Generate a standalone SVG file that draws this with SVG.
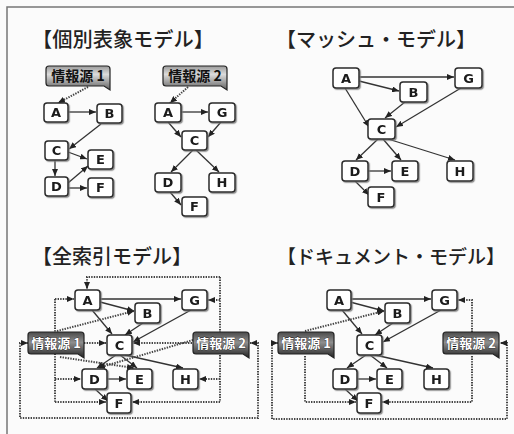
<svg xmlns="http://www.w3.org/2000/svg" width="514" height="434" viewBox="0 0 514 434">
<defs>
<style>
.title{font-family:"Noto Sans CJK JP","Noto Sans",sans-serif;font-size:20px;font-weight:500;fill:#222}
.t4{font-size:19px}
.nd rect{fill:#fff;stroke:#2a2a2a;stroke-width:1.5}
.nd text{font-family:"DejaVu Sans","Liberation Sans",sans-serif;font-weight:bold;font-size:13px;fill:#1a1a1a;text-anchor:middle}
.src path{stroke:#222;stroke-width:1.2}
.srcL path{fill:url(#gl)}
.srcD path{fill:url(#gd)}
.src text{font-family:"Noto Sans CJK JP","Noto Sans",sans-serif;font-weight:bold;text-anchor:middle}
.srcL text{font-size:14px;fill:#111}
.srcD text{font-size:13px;fill:#fff;stroke:#111;stroke-width:0.6;paint-order:stroke}
.e{fill:none;stroke:#333;stroke-width:1.3;marker-end:url(#ah)}
.d{fill:none;stroke:#444;stroke-width:2;stroke-dasharray:1.4 1.2;marker-end:url(#ah)}
.d2{fill:none;stroke:#444;stroke-width:2;stroke-dasharray:1.4 1.2;marker-start:url(#ah);marker-end:url(#ah)}
.dn{fill:none;stroke:#444;stroke-width:2;stroke-dasharray:1.4 1.2}
</style>
<linearGradient id="gl" x1="0" y1="0" x2="0" y2="1">
<stop offset="0" stop-color="#9a9a9a"/><stop offset="0.35" stop-color="#dcdcdc"/><stop offset="1" stop-color="#606060"/>
</linearGradient>
<linearGradient id="gd" x1="0" y1="0" x2="0" y2="1">
<stop offset="0" stop-color="#4a4a4a"/><stop offset="0.4" stop-color="#8e8e8e"/><stop offset="1" stop-color="#222"/>
</linearGradient>
<filter id="sh" x="-20%" y="-20%" width="150%" height="150%">
<feDropShadow dx="1.2" dy="1.2" stdDeviation="0.6" flood-color="#777" flood-opacity="0.8"/>
</filter>
<marker id="ah" markerUnits="userSpaceOnUse" markerWidth="7" markerHeight="6" refX="7" refY="3" orient="auto-start-reverse">
<path d="M0,0 L7,3 L0,6 z" fill="#222"/>
</marker>
</defs>
<rect width="514" height="434" fill="#fbfbfb"/>
<path d="M7,434 V7 H514" fill="none" stroke="#777" stroke-width="1.5"/>

<g id="titles">
<text class="title" x="32" y="47" textLength="182" lengthAdjust="spacingAndGlyphs">【個別表象モデル】</text>
<text class="title" x="276" y="47">【マッシュ・モデル】</text>
<text class="title" x="32" y="264" textLength="160" lengthAdjust="spacingAndGlyphs">【全索引モデル】</text>
<text class="title t4" x="277" y="264">【ドキュメント・モデル】</text>
</g>

<g id="connectors">
<!-- panel 1 -->
<path class="d" d="M88,87 L58,103"/>
<path class="e" d="M68,112 L96,112"/>
<path class="e" d="M101,124 L69,149"/>
<path class="e" d="M68,152 L87,159"/>
<path class="e" d="M55,160 L55,176"/>
<path class="e" d="M68,183 L88,166"/>
<path class="e" d="M68,188 L87,188"/>
<path class="d" d="M188,87 L170,103"/>
<path class="e" d="M181,112 L208,112"/>
<path class="e" d="M168,122 L181,137"/>
<path class="e" d="M221,122 L208,137"/>
<path class="e" d="M193,150 L171,172"/>
<path class="e" d="M196,150 L219,172"/>
<path class="e" d="M170,192 L181,205"/>
<!-- panel 2 -->
<path class="e" d="M359,77 L454,77"/>
<path class="e" d="M359,81 L399,91"/>
<path class="e" d="M345,88 L369,127"/>
<path class="e" d="M405,102 L385,118"/>
<path class="e" d="M461,88 L396,127"/>
<path class="e" d="M378,139 L356,160"/>
<path class="e" d="M383,139 L401,160"/>
<path class="e" d="M388,139 L455,160"/>
<path class="e" d="M368,171 L391,171"/>
<path class="e" d="M355,181 L369,195"/>
<!-- panel 3 solid -->
<path class="e" d="M100,299 L181,299"/>
<path class="e" d="M100,302 L134,311"/>
<path class="e" d="M92,310 L112,334"/>
<path class="e" d="M143,323 L125,335"/>
<path class="e" d="M191,310 L133,342"/>
<path class="e" d="M116,355 L97,368"/>
<path class="e" d="M120,355 L137,368"/>
<path class="e" d="M125,355 L183,368"/>
<path class="e" d="M107,379 L126,379"/>
<path class="e" d="M95,389 L108,401"/>
<!-- panel 3 dotted -->
<path class="dn" d="M55,299 V402"/>
<path class="d" d="M55,299 H74"/>
<path class="d" d="M57,331 L134,311"/>
<path class="d" d="M84,343 H106"/>
<path class="d" d="M60,357 L134,368"/>
<path class="d" d="M55,379 H81"/>
<path class="d" d="M55,402 H106"/>
<path class="dn" d="M220,277 V402"/>
<path class="d" d="M220,277 H87 V289"/>
<path class="d" d="M220,300 H208"/>
<path class="d" d="M192,343 H133"/>
<path class="d" d="M193,340 L98,368"/>
<path class="d" d="M220,379 H199"/>
<path class="d" d="M220,402 H132"/>
<path class="d2" d="M28,343 H20 V418 H258 V343 H250"/>
<!-- panel 4 solid -->
<path class="e" d="M350,299 L431,299"/>
<path class="e" d="M350,302 L384,311"/>
<path class="e" d="M342,310 L362,334"/>
<path class="e" d="M393,323 L375,335"/>
<path class="e" d="M441,310 L383,342"/>
<path class="e" d="M366,355 L347,368"/>
<path class="e" d="M370,355 L387,368"/>
<path class="e" d="M375,355 L433,368"/>
<path class="e" d="M357,379 L376,379"/>
<path class="e" d="M345,389 L358,401"/>
<!-- panel 4 dotted -->
<path class="d" d="M305,331 L384,311"/>
<path class="d" d="M305,356 V402 H356"/>
<path class="d" d="M472,332 V300 H458"/>
<path class="d" d="M472,356 V402 H382"/>
<path class="d2" d="M278,343 H272 V419 H507 V343 H500"/>
</g>

<!-- panel 1 nodes -->
<g id="p1-src1" class="src srcL"><path d="M49,66 H107 Q110,66 110,69 V90 L104,86 H49 Q46,86 46,83 V69 Q46,66 49,66 Z"/><text x="78" y="81">情報源 1</text></g>
<g id="p1-A" class="nd" filter="url(#sh)"><rect x="44" y="103" width="24" height="19" rx="3"/><text x="56" y="117">A</text></g>
<g id="p1-B" class="nd" filter="url(#sh)"><rect x="97" y="104" width="25" height="19" rx="3"/><text x="109.5" y="118">B</text></g>
<g id="p1-C" class="nd" filter="url(#sh)"><rect x="45" y="141" width="23" height="19" rx="3"/><text x="56.5" y="155">C</text></g>
<g id="p1-E" class="nd" filter="url(#sh)"><rect x="88" y="150" width="25" height="19" rx="3"/><text x="100.5" y="164">E</text></g>
<g id="p1-D" class="nd" filter="url(#sh)"><rect x="45" y="177" width="23" height="19" rx="3"/><text x="56.5" y="191">D</text></g>
<g id="p1-F" class="nd" filter="url(#sh)"><rect x="88" y="178" width="25" height="19" rx="3"/><text x="100.5" y="192">F</text></g>
<g id="p1-src2" class="src srcL"><path d="M166,66 H224 Q227,66 227,69 V90 L221,86 H166 Q163,86 163,83 V69 Q163,66 166,66 Z"/><text x="195" y="81">情報源 2</text></g>
<g id="p1-A2" class="nd" filter="url(#sh)"><rect x="155" y="103" width="26" height="19" rx="3"/><text x="168" y="117">A</text></g>
<g id="p1-G" class="nd" filter="url(#sh)"><rect x="209" y="103" width="26" height="19" rx="3"/><text x="222" y="117">G</text></g>
<g id="p1-C2" class="nd" filter="url(#sh)"><rect x="182" y="131" width="25" height="19" rx="3"/><text x="194.5" y="145">C</text></g>
<g id="p1-D2" class="nd" filter="url(#sh)"><rect x="155" y="173" width="26" height="19" rx="3"/><text x="168" y="187">D</text></g>
<g id="p1-H" class="nd" filter="url(#sh)"><rect x="209" y="173" width="26" height="19" rx="3"/><text x="222" y="187">H</text></g>
<g id="p1-F2" class="nd" filter="url(#sh)"><rect x="182" y="197" width="25" height="19" rx="3"/><text x="194.5" y="211">F</text></g>

<!-- panel 2 nodes -->
<g id="p2-A" class="nd" filter="url(#sh)"><rect x="333" y="68" width="26" height="20" rx="3"/><text x="346" y="82.5">A</text></g>
<g id="p2-B" class="nd" filter="url(#sh)"><rect x="400" y="82" width="27" height="20" rx="3"/><text x="413.5" y="96.5">B</text></g>
<g id="p2-G" class="nd" filter="url(#sh)"><rect x="455" y="68" width="27" height="20" rx="3"/><text x="468.5" y="82.5">G</text></g>
<g id="p2-C" class="nd" filter="url(#sh)"><rect x="368" y="119" width="27" height="20" rx="3"/><text x="381.5" y="133.5">C</text></g>
<g id="p2-D" class="nd" filter="url(#sh)"><rect x="342" y="161" width="26" height="20" rx="3"/><text x="355" y="175.5">D</text></g>
<g id="p2-E" class="nd" filter="url(#sh)"><rect x="392" y="161" width="26" height="20" rx="3"/><text x="405" y="175.5">E</text></g>
<g id="p2-H" class="nd" filter="url(#sh)"><rect x="447" y="161" width="26" height="20" rx="3"/><text x="460" y="175.5">H</text></g>
<g id="p2-F" class="nd" filter="url(#sh)"><rect x="368" y="187" width="26" height="20" rx="3"/><text x="381" y="201.5">F</text></g>

<!-- panel 3 nodes -->
<g id="p3-A" class="nd" filter="url(#sh)"><rect x="75" y="290" width="25" height="20" rx="3"/><text x="87.5" y="304.5">A</text></g>
<g id="p3-B" class="nd" filter="url(#sh)"><rect x="135" y="303" width="25" height="20" rx="3"/><text x="147.5" y="317.5">B</text></g>
<g id="p3-G" class="nd" filter="url(#sh)"><rect x="182" y="290" width="25" height="20" rx="3"/><text x="194.5" y="304.5">G</text></g>
<g id="p3-C" class="nd" filter="url(#sh)"><rect x="107" y="335" width="25" height="20" rx="3"/><text x="119.5" y="349.5">C</text></g>
<g id="p3-D" class="nd" filter="url(#sh)"><rect x="82" y="369" width="25" height="20" rx="3"/><text x="94.5" y="383.5">D</text></g>
<g id="p3-E" class="nd" filter="url(#sh)"><rect x="127" y="369" width="25" height="20" rx="3"/><text x="139.5" y="383.5">E</text></g>
<g id="p3-H" class="nd" filter="url(#sh)"><rect x="173" y="369" width="25" height="20" rx="3"/><text x="185.5" y="383.5">H</text></g>
<g id="p3-F" class="nd" filter="url(#sh)"><rect x="107" y="393" width="24" height="20" rx="3"/><text x="119" y="407.5">F</text></g>
<g id="p3-src1" class="src srcD"><path d="M31,332 H81 Q84,332 84,335 V358 L78,354 H31 Q28,354 28,351 V335 Q28,332 31,332 Z"/><text x="56" y="348">情報源 1</text></g>
<g id="p3-src2" class="src srcD"><path d="M196,332 H246 Q249,332 249,335 V358 L243,354 H196 Q193,354 193,351 V335 Q193,332 196,332 Z"/><text x="221" y="348">情報源 2</text></g>

<!-- panel 4 nodes -->
<g id="p4-A" class="nd" filter="url(#sh)"><rect x="327" y="290" width="24" height="20" rx="3"/><text x="339" y="304.5">A</text></g>
<g id="p4-B" class="nd" filter="url(#sh)"><rect x="385" y="303" width="25" height="20" rx="3"/><text x="397.5" y="317.5">B</text></g>
<g id="p4-G" class="nd" filter="url(#sh)"><rect x="432" y="290" width="25" height="20" rx="3"/><text x="444.5" y="304.5">G</text></g>
<g id="p4-C" class="nd" filter="url(#sh)"><rect x="357" y="335" width="25" height="20" rx="3"/><text x="369.5" y="349.5">C</text></g>
<g id="p4-D" class="nd" filter="url(#sh)"><rect x="333" y="369" width="24" height="20" rx="3"/><text x="345" y="383.5">D</text></g>
<g id="p4-E" class="nd" filter="url(#sh)"><rect x="377" y="369" width="25" height="20" rx="3"/><text x="389.5" y="383.5">E</text></g>
<g id="p4-H" class="nd" filter="url(#sh)"><rect x="424" y="369" width="25" height="20" rx="3"/><text x="436.5" y="383.5">H</text></g>
<g id="p4-F" class="nd" filter="url(#sh)"><rect x="357" y="393" width="24" height="20" rx="3"/><text x="369" y="407.5">F</text></g>
<g id="p4-src1" class="src srcD"><path d="M281,332 H331 Q334,332 334,335 V358 L328,354 H281 Q278,354 278,351 V335 Q278,332 281,332 Z"/><text x="306" y="348">情報源 1</text></g>
<g id="p4-src2" class="src srcD"><path d="M446,332 H496 Q499,332 499,335 V358 L493,354 H446 Q443,354 443,351 V335 Q443,332 446,332 Z"/><text x="471" y="348">情報源 2</text></g>
</svg>
